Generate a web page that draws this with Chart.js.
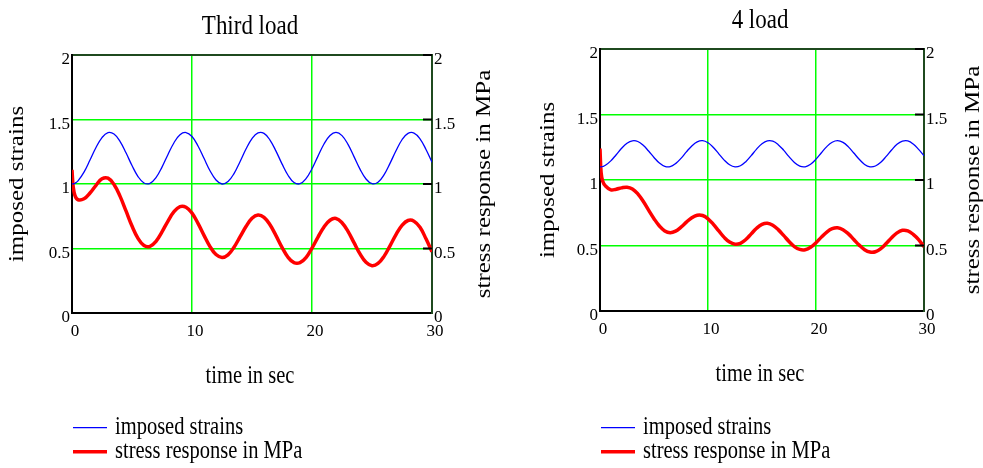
<!DOCTYPE html>
<html>
<head>
<meta charset="utf-8">
<script src="https://cdn.jsdelivr.net/npm/chart.js@4.4.1/dist/chart.umd.min.js"></script>
<style>
  html, body { margin: 0; padding: 0; background: #fff; width: 983px; height: 468px; overflow: hidden; }
  canvas { position: absolute; top: 0; }
  #third { left: 0; }
  #fourth { left: 500px; }
</style>
</head>
<body>
<canvas id="third" width="500" height="468"></canvas>
<canvas id="fourth" width="483" height="468"></canvas>
<script>
// time in sec, shared by both plots
const times = [0, 0.1, 0.25,
  0.5, 1, 1.5, 2, 2.5, 3, 3.5, 4, 4.5, 5,
  5.5, 6, 6.5, 7, 7.5, 8, 8.5, 9, 9.5, 10,
  10.5, 11, 11.5, 12, 12.5, 13, 13.5, 14, 14.5, 15,
  15.5, 16, 16.5, 17, 17.5, 18, 18.5, 19, 19.5, 20,
  20.5, 21, 21.5, 22, 22.5, 23, 23.5, 24, 24.5, 25,
  25.5, 26, 26.5, 27, 27.5, 28, 28.5, 29, 29.5, 30];

// third load
const strainThird = [1.000, 1.001, 1.006,
  1.024, 1.092, 1.186, 1.283, 1.360, 1.398, 1.387, 1.331, 1.242, 1.143,
  1.058, 1.008, 1.005, 1.049, 1.131, 1.229, 1.320, 1.382, 1.399, 1.368,
  1.295, 1.199, 1.103, 1.031, 1.000, 1.019, 1.081, 1.173, 1.271, 1.352,
  1.396, 1.392, 1.341, 1.255, 1.156, 1.068, 1.012, 1.002, 1.041, 1.118,
  1.216, 1.310, 1.376, 1.400, 1.375, 1.307, 1.212, 1.115, 1.039, 1.002,
  1.013, 1.071, 1.160, 1.258, 1.343, 1.392, 1.395, 1.350, 1.268, 1.169];
const stressThird = [1.11, 0.98, 0.91,
  0.878, 0.885, 0.93, 0.99, 1.04, 1.045, 0.996, 0.906, 0.791, 0.674,
  0.579, 0.523, 0.517, 0.556, 0.629, 0.713, 0.786, 0.825, 0.82, 0.774,
  0.695, 0.602, 0.515, 0.453, 0.431, 0.451, 0.51, 0.59, 0.67, 0.734,
  0.76, 0.742, 0.684, 0.60, 0.509, 0.432, 0.39, 0.39, 0.43, 0.503,
  0.589, 0.667, 0.719, 0.733, 0.70, 0.633, 0.545, 0.458, 0.393, 0.367,
  0.384, 0.439, 0.521, 0.608, 0.679, 0.717, 0.712, 0.664, 0.575, 0.474];

// 4 load
const strainFourth = [1.100, 1.100, 1.103,
  1.112, 1.146, 1.193, 1.242, 1.280, 1.299, 1.294, 1.265, 1.221, 1.172,
  1.129, 1.104, 1.102, 1.125, 1.165, 1.215, 1.260, 1.291, 1.300, 1.284,
  1.248, 1.200, 1.152, 1.116, 1.100, 1.109, 1.140, 1.186, 1.236, 1.276,
  1.298, 1.296, 1.270, 1.228, 1.178, 1.134, 1.106, 1.101, 1.120, 1.159,
  1.208, 1.255, 1.288, 1.300, 1.287, 1.253, 1.206, 1.158, 1.119, 1.101,
  1.107, 1.135, 1.180, 1.229, 1.272, 1.296, 1.298, 1.275, 1.234, 1.185];
const stressFourth = [1.24, 1.06, 0.99,
  0.955, 0.925, 0.93, 0.94, 0.945, 0.932, 0.894, 0.838, 0.77, 0.705,
  0.649, 0.611, 0.598, 0.61, 0.64, 0.678, 0.712, 0.731, 0.729, 0.704,
  0.661, 0.611, 0.562, 0.526, 0.51, 0.517, 0.546, 0.589, 0.632, 0.661,
  0.669, 0.654, 0.621, 0.577, 0.531, 0.492, 0.47, 0.468, 0.486, 0.521,
  0.564, 0.603, 0.629, 0.636, 0.621, 0.589, 0.546, 0.503, 0.468, 0.45,
  0.452, 0.476, 0.515, 0.559, 0.596, 0.616, 0.612, 0.585, 0.545, 0.49];

const xTicks = [0, 10, 20, 30];
const yTicks = [0, 0.5, 1, 1.5, 2];
const chartTitles = ['Third load', '4 load'];
const seriesNames = ['imposed strains', 'stress response in MPa'];
const xTitle = 'time in sec';
const yTitle = 'imposed strains';
const y2Title = 'stress response in MPa';

const serif = '"Liberation Serif", "Times New Roman", serif';
const gridGreen = '#00ff00';
const frameDark = '#1f4a1f';
const condense = 0.82; // the original text is squeezed sideways

function drawLabel(ctx, text, x, y, size, opts = {}) {
  ctx.save();
  ctx.translate(x, y);
  ctx.scale(condense, 1);
  if (opts.vertical) ctx.rotate(-Math.PI / 2);
  ctx.font = size + 'px ' + serif;
  ctx.fillStyle = '#000';
  ctx.textAlign = opts.align || 'center';
  ctx.textBaseline = opts.baseline || 'alphabetic';
  ctx.fillText(text, 0, 0);
  ctx.restore();
}

// titles, axis titles, inner ticks on the right axis and the legend
const mathcadFrame = {
  id: 'mathcadFrame',
  afterDraw(chart, args, o) {
    const { ctx, chartArea: a, scales } = chart;
    ctx.save();
    ctx.strokeStyle = '#000';
    ctx.lineWidth = 2;
    yTicks.slice(1).forEach(v => {
      const y = scales.y2.getPixelForValue(v);
      ctx.beginPath();
      ctx.moveTo(a.right - 9, y);
      ctx.lineTo(a.right, y);
      ctx.stroke();
    });
    ctx.restore();

    const midX = (a.left + a.right) / 2 - 2;
    const midY = (a.top + a.bottom) / 2;
    drawLabel(ctx, o.title, midX, a.top - 21.5, 28);
    drawLabel(ctx, xTitle, midX, a.bottom + 70, 25);
    drawLabel(ctx, yTitle, o.leftTitleX, midY, 25, { vertical: true, baseline: 'middle' });
    drawLabel(ctx, y2Title, o.rightTitleX, midY, 25, { vertical: true, baseline: 'middle' });

    chart.data.datasets.forEach((ds, i) => {
      const y = o.legendY[i];
      ctx.save();
      ctx.strokeStyle = ds.borderColor;
      ctx.lineWidth = ds.borderWidth;
      ctx.beginPath();
      ctx.moveTo(o.legendX, y);
      ctx.lineTo(o.legendX + 34, y);
      ctx.stroke();
      ctx.restore();
      drawLabel(ctx, ds.label, o.legendX + 42, y + 6, 25, { align: 'left' });
    });
  }
};

function makeChart(id, strain, stress, frame) {
  const canvas = document.getElementById(id);
  const tickFont = { family: serif, size: 17 };
  const plain = v => String(v);
  return new Chart(canvas, {
    type: 'line',
    data: {
      datasets: [
        {
          label: seriesNames[0],
          data: times.map((t, i) => ({ x: t, y: strain[i] })),
          borderColor: '#0000ff',
          borderWidth: 1.3,
          yAxisID: 'y'
        },
        {
          label: seriesNames[1],
          data: times.map((t, i) => ({ x: t, y: stress[i] })),
          borderColor: '#ff0000',
          borderWidth: 3.5,
          yAxisID: 'y2'
        }
      ]
    },
    options: {
      responsive: false,
      animation: false,
      devicePixelRatio: 1,
      layout: { padding: { top: frame.top, left: 0, right: 0, bottom: 0 } },
      elements: {
        point: { radius: 0 },
        line: { tension: 0.4, fill: false }
      },
      scales: {
        x: {
          type: 'linear',
          min: 0,
          max: 30,
          afterBuildTicks: s => { s.ticks = xTicks.map(v => ({ value: v })); },
          afterFit: s => { s.height = canvas.height - frame.bottom; },
          ticks: { font: tickFont, color: '#000', padding: 8, labelOffset: 3, maxRotation: 0, autoSkip: false, callback: plain },
          grid: {
            drawTicks: false,
            lineWidth: 1.5,
            color: c => (c.tick && (c.tick.value === 0 || c.tick.value === 30)) ? 'rgba(0,0,0,0)' : gridGreen
          },
          border: { color: '#000', width: 2 }
        },
        y: {
          position: 'left',
          min: 0,
          max: 2,
          afterBuildTicks: s => { s.ticks = yTicks.map(v => ({ value: v })); },
          afterFit: s => { s.width = frame.left; },
          ticks: { font: tickFont, color: '#000', padding: 2, labelOffset: 5, callback: plain },
          grid: {
            drawTicks: false,
            lineWidth: c => (c.tick && c.tick.value === 2) ? 2 : 1.5,
            color: c => {
              const v = c.tick ? c.tick.value : null;
              if (v === 0) return 'rgba(0,0,0,0)';
              return v === 2 ? frameDark : gridGreen;
            }
          },
          border: { color: '#000', width: 2 }
        },
        y2: {
          position: 'right',
          min: 0,
          max: 2,
          afterBuildTicks: s => { s.ticks = yTicks.map(v => ({ value: v })); },
          afterFit: s => { s.width = canvas.width - frame.right; },
          ticks: { font: tickFont, color: '#000', padding: 2, labelOffset: 5, callback: plain },
          grid: { drawOnChartArea: false, drawTicks: false },
          border: { color: frameDark, width: 2 }
        }
      },
      plugins: {
        legend: { display: false },
        tooltip: { enabled: false },
        mathcadFrame: {
          title: frame.title,
          leftTitleX: frame.leftTitleX,
          rightTitleX: frame.rightTitleX,
          legendX: frame.legendX,
          legendY: [427.7, 451.7]
        }
      }
    },
    plugins: [mathcadFrame]
  });
}

makeChart('third', strainThird, stressThird, {
  title: chartTitles[0], top: 55, bottom: 313, left: 72, right: 432,
  leftTitleX: 17.5, rightTitleX: 485, legendX: 73
});
makeChart('fourth', strainFourth, stressFourth, {
  title: chartTitles[1], top: 49, bottom: 311, left: 100, right: 424,
  leftTitleX: 49, rightTitleX: 473.5, legendX: 101
});
</script>
</body>
</html>
